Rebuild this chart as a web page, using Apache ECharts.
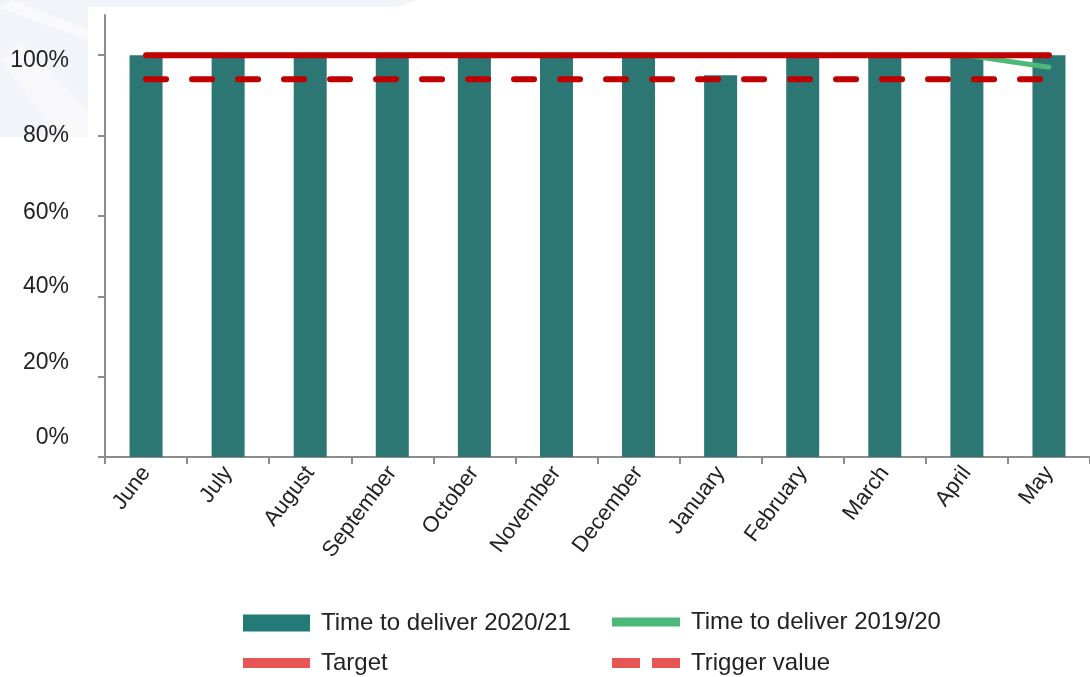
<!DOCTYPE html>
<html>
<head>
<meta charset="utf-8">
<script src="https://cdn.jsdelivr.net/npm/echarts@6/dist/echarts.min.js"></script>
<style>
  html, body { margin: 0; padding: 0; background: #ffffff; }
  #chart { width: 1090px; height: 677px; }
</style>
</head>
<body>
<div id="chart"></div>
<script>
// Monthly delivery performance, June 2020 to May 2021
const months = ['June', 'July', 'August', 'September', 'October', 'November',
  'December', 'January', 'February', 'March', 'April', 'May'];
const deliver2021 = [100, 100, 100, 100, 100, 100, 100, 95, 100, 100, 100, 100];
const deliver1920 = [100, 100, 100, 100, 100, 100, 100, 100, 100, 100, 100, 97];
const target = [100, 100, 100, 100, 100, 100, 100, 100, 100, 100, 100, 100];
const trigger = [94, 94, 94, 94, 94, 94, 94, 94, 94, 94, 94, 94];
const yTicks = [0, 20, 40, 60, 80, 100];

const FONT = '"Liberation Sans", Arial, sans-serif';
const TEAL = '#2c7673';
const GREEN = '#4cb87a';
const RED = '#c00000';

// vertical nudge (px, negative = up) applied to each y-axis label
const labelNudge = { 0: -19, 20: -14, 40: -10, 60: -3, 80: 0, 100: 5 };

const yRich = {};
Object.keys(labelNudge).forEach(function (v) {
  const d = labelNudge[v];
  yRich['v' + v] = {
    fontFamily: FONT, fontSize: 23, color: '#222',
    padding: d >= 0 ? [2 * d, 0, 0, 0] : [0, 0, -2 * d, 0]
  };
});

const chart = echarts.init(document.getElementById('chart'));

function legendBox(name, left, top, w, h, icon, color) {
  return {
    left: left, top: top,
    padding: 0,
    itemWidth: w, itemHeight: h,
    selectedMode: false,
    textStyle: { fontFamily: FONT, fontSize: 24, color: '#222', padding: [0, 0, 0, 6] },
    data: [{ name: name, icon: icon, itemStyle: { color: color, borderWidth: 0 } }]
  };
}

chart.setOption({
  animation: false,
  backgroundColor: '#ffffff',
  graphic: [
    {
      type: 'polygon', z: -10, silent: true,
      shape: { points: [[0, 0], [418, 0], [398, 7], [88, 7], [88, 137], [0, 137]] },
      style: { fill: '#f3f4f9' }
    },
    {
      type: 'polygon', z: -9, silent: true,
      shape: { points: [[0, 8], [12, 0], [88, 30], [88, 40]] },
      style: { fill: '#ffffff', opacity: 0.55 }
    },
    {
      type: 'polygon', z: -9, silent: true,
      shape: { points: [[0, 60], [20, 40], [88, 110], [88, 137], [60, 137]] },
      style: { fill: '#ffffff', opacity: 0.4 }
    },
    {
      type: 'line', silent: true,
      shape: { x1: 99, y1: 457, x2: 106, y2: 457 },
      style: { stroke: '#8c8c8c', lineWidth: 2 }
    }
  ],
  grid: { left: 105, right: -3, top: 15, bottom: 220, containLabel: false },
  legend: [
    legendBox('Time to deliver 2020/21', 243, 611, 67, 17, 'rect', '#237b78'),
    legendBox('Time to deliver 2019/20', 612, 610, 68, 9, 'rect', GREEN),
    legendBox('Target', 243, 651, 67, 10, 'rect', '#e85555'),
    legendBox('Trigger value', 612, 651, 68, 10, 'path://M0,0H28V10H0Z M40,0H68V10H40Z', '#e85555')
  ],
  xAxis: {
    type: 'category',
    data: months,
    boundaryGap: true,
    axisLine: { lineStyle: { color: '#8c8c8c', width: 2 } },
    axisTick: { show: true, length: 7, alignWithLabel: false, lineStyle: { color: '#8c8c8c', width: 2 } },
    axisLabel: {
      rotate: 53, margin: 12, interval: 0,
      fontFamily: FONT, fontSize: 22, color: '#222'
    },
    splitLine: { show: false }
  },
  yAxis: {
    type: 'value',
    min: 0, max: 110, interval: 20,
    axisLine: { show: true, lineStyle: { color: '#8c8c8c', width: 2 } },
    axisTick: { show: true, length: 7, customValues: yTicks, lineStyle: { color: '#8c8c8c', width: 2 } },
    axisLabel: {
      customValues: yTicks,
      margin: 36, fontFamily: FONT, fontSize: 23, color: '#222',
      formatter: function (v) { return '{v' + v + '|' + v + '%}'; },
      rich: yRich
    },
    splitLine: { show: false }
  },
  series: [
    {
      name: 'Time to deliver 2020/21',
      type: 'bar',
      data: deliver2021,
      barWidth: 33,
      itemStyle: { color: TEAL },
      z: 2
    },
    {
      name: 'Time to deliver 2019/20',
      type: 'line',
      data: deliver1920,
      symbol: 'none',
      lineStyle: { color: GREEN, width: 5, cap: 'round' },
      itemStyle: { color: GREEN },
      z: 3
    },
    {
      name: 'Target',
      type: 'line',
      data: target,
      symbol: 'none',
      lineStyle: { color: RED, width: 6, cap: 'round' },
      itemStyle: { color: RED },
      z: 4
    },
    {
      name: 'Trigger value',
      type: 'line',
      data: trigger,
      symbol: 'none',
      lineStyle: { color: RED, width: 6, type: [20, 26], cap: 'round' },
      itemStyle: { color: RED },
      z: 5
    }
  ]
});
</script>
</body>
</html>
